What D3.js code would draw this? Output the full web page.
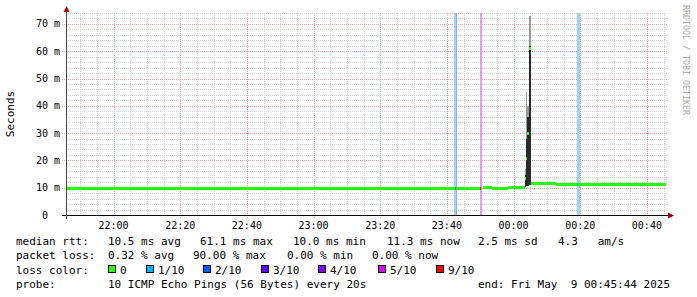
<!DOCTYPE html>
<html>
<head>
<meta charset="utf-8">
<script src="https://cdn.jsdelivr.net/npm/d3@7"></script>
<style>
    body { margin: 0; background: #fff; }
    svg { display: block; }
    text { font-family: "DejaVu Sans Mono", monospace; fill: #000; white-space: pre; }
</style>
</head>
<body>
<div id="chart"></div>
<script>
// graph window
var startTime = "21:45:44";
var endTime = "00:45:44";
var yTicks = [0, 10, 20, 30, 40, 50, 60, 70];

// median rtt (ms), one value per step starting at medTimes[i]; loss in tenths
var medTimes  = ["21:45:44", "23:42:26", "23:42:44", "23:49:56", "23:50:14", "23:50:50", "23:53:32",
                 "23:58:20", "00:00:26", "00:03:26", "00:03:44", "00:04:02", "00:04:38", "00:05:14",
                 "00:12:44", "00:19:02", "00:19:20", "00:25:20", "00:28:56"];
var medValues = [10.0, 10.0, 10.0, 10.0, null, 10.4, 10.0,
                 10.4, 10.2, 13.5, 21.0, 30.0, 61.1, 11.7,
                 11.5, 11.5, 11.5, 11.2, 11.4];
var medLoss   = [0, 2, 0, 9, 0, 0, 0,
                 0, 0, 0, 0, 0, 0, 0,
                 0, 1, 0, 0, 0];

// smoke around the spike (ms)
var smokeTimes    = ["00:03:26", "00:03:44", "00:04:02", "00:04:38", "00:05:14"];
var smokeLow      = [10.3, 10.5, 10.5, 11.0];
var smokeHigh     = [17, 45, 40, 73];
var smokeDarkHigh = [14.5, 28, 36, 62];

// loss background stripes
var lossBgStart = ["23:42:08", "23:42:44", "23:49:56", "00:19:02"];
var lossBgEnd   = ["23:42:44", "23:43:02", "23:50:32", "00:19:56"];
var lossBgLevel = [1, 3, 5, 1];

// legend
var lossLevels = [0, 1, 2, 3, 4, 5, 9];
var lossLabels = ["0", "1/10", "2/10", "3/10", "4/10", "5/10", "9/10"];
var lossColors = ["#26ff00", "#00b8ff", "#0059ff", "#5e00ff", "#7e00ff", "#dd00ff", "#ff0000"];
var rttStats  = ["10.5 ms avg", "61.1 ms max", "10.0 ms min", "11.3 ms now", "2.5 ms sd", "4.3   am/s"];
var lossStats = ["0.32 % avg", "90.00 % max", "0.00 % min", "0.00 % now"];
var probeText = "10 ICMP Echo Pings (56 Bytes) every 20s";
var endText = "end: Fri May  9 00:45:44 2025";

var W = 697, H = 297;

function toDate(s) {
    var p = s.split(":").map(Number);
    var day = p[0] >= 12 ? 8 : 9;
    return new Date(2025, 4, day, p[0], p[1], p[2]);
}
function colorOf(level) {
    return lossColors[lossLevels.indexOf(level)];
}

var svg = d3.select("#chart").append("svg")
    .attr("width", W)
    .attr("height", H);

var x = d3.scaleTime().domain([toDate(startTime), toDate(endTime)]).range([66, 666]);
var y = d3.scaleLinear().domain([0, 74]).range([215, 13]);

var grid = svg.append("g").attr("shape-rendering", "crispEdges");

// minor grid
var minorX = x.ticks(d3.timeMinute.every(5));
var majorX = x.ticks(d3.timeMinute.every(20));
grid.selectAll(".vmin").data(minorX).enter().append("line")
    .attr("x1", function (d) { return Math.round(x(d)) + 0.5; })
    .attr("x2", function (d) { return Math.round(x(d)) + 0.5; })
    .attr("y1", y(74)).attr("y2", 215)
    .attr("stroke", "#d2d2d2").attr("stroke-dasharray", "1,1");
var minorY = d3.range(2, 75, 2);
grid.selectAll(".hmin").data(minorY).enter().append("line")
    .attr("x1", 66).attr("x2", 668)
    .attr("y1", function (d) { return Math.round(y(d)) + 0.5; })
    .attr("y2", function (d) { return Math.round(y(d)) + 0.5; })
    .attr("stroke", "#d2d2d2").attr("stroke-dasharray", "1,1");

// major grid
grid.selectAll(".vmaj").data(majorX).enter().append("line")
    .attr("x1", function (d) { return Math.round(x(d)) + 0.5; })
    .attr("x2", function (d) { return Math.round(x(d)) + 0.5; })
    .attr("y1", y(74)).attr("y2", 219)
    .attr("stroke", "#eba4a4").attr("stroke-dasharray", "1,1");
grid.selectAll(".hmaj").data(yTicks.slice(1)).enter().append("line")
    .attr("x1", 62).attr("x2", 668)
    .attr("y1", function (d) { return Math.round(y(d)) + 0.5; })
    .attr("y2", function (d) { return Math.round(y(d)) + 0.5; })
    .attr("stroke", "#eba4a4").attr("stroke-dasharray", "1,1");

// loss background stripes
var bg = svg.append("g").attr("shape-rendering", "crispEdges");
lossBgStart.forEach(function (s, i) {
    var x0 = Math.round(x(toDate(s))), x1 = Math.round(x(toDate(lossBgEnd[i])));
    bg.append("rect")
        .attr("x", x0).attr("width", Math.max(1, x1 - x0))
        .attr("y", y(74)).attr("height", y(0) - y(74))
        .attr("fill", d3.interpolateRgb(colorOf(lossBgLevel[i]), "#e8e8f0")(0.65));
});

// smoke
var smoke = svg.append("g").attr("shape-rendering", "crispEdges");
for (var i = 0; i < smokeTimes.length - 1; i++) {
    var sx0 = Math.round(x(toDate(smokeTimes[i]))), sx1 = Math.round(x(toDate(smokeTimes[i + 1])));
    smoke.append("rect")
        .attr("x", sx0).attr("width", sx1 - sx0)
        .attr("y", y(smokeHigh[i])).attr("height", y(smokeLow[i]) - y(smokeHigh[i]))
        .attr("fill", "#9a9a9a");
    smoke.append("rect")
        .attr("x", sx0).attr("width", sx1 - sx0)
        .attr("y", y(smokeDarkHigh[i])).attr("height", y(smokeLow[i]) - y(smokeDarkHigh[i]))
        .attr("fill", "#2a2a2a");
}

// median, coloured by loss
var line = d3.line().x(function (d) { return d[0]; }).y(function (d) { return d[1]; });
var med = svg.append("g").attr("shape-rendering", "crispEdges");
medTimes.forEach(function (t, i) {
    if (medValues[i] === null) return;
    var t1 = i + 1 < medTimes.length ? medTimes[i + 1] : endTime;
    var yy = Math.round(y(medValues[i])) + 0.5;
    med.append("path")
        .attr("d", line([[Math.round(x(toDate(t))), yy], [Math.round(x(toDate(t1))), yy]]))
        .attr("fill", "none")
        .attr("stroke", colorOf(medLoss[i]))
        .attr("stroke-width", 3);
});

// axes
var ax = svg.append("g").attr("shape-rendering", "crispEdges");
ax.append("line").attr("x1", 62).attr("x2", 668).attr("y1", 215.5).attr("y2", 215.5)
    .attr("stroke", "#000");
ax.append("line").attr("x1", 66.5).attr("x2", 66.5).attr("y1", 219).attr("y2", 12)
    .attr("stroke", "#444");
svg.append("path").attr("d", "M668,212.5L674,215.5L668,218.5Z").attr("fill", "#a00000");
svg.append("path").attr("d", "M63.5,12L66.5,6L69.5,12Z").attr("fill", "#a00000");

// x tick labels
svg.selectAll(".xl").data(majorX).enter().append("text")
    .attr("x", function (d) { return x(d); })
    .attr("y", 229)
    .attr("text-anchor", "middle")
    .style("font-size", "10px")
    .text(d3.timeFormat("%H:%M"));

// y tick labels
svg.selectAll(".yl").data(yTicks).enter().append("text")
    .attr("x", 60)
    .attr("y", function (d) { return y(d) + 3.5; })
    .attr("text-anchor", "end")
    .style("font-size", "10px")
    .text(function (d) { return d === 0 ? "0  " : d + " m"; });

// axis title
svg.append("text")
    .attr("transform", "translate(14,114) rotate(-90)")
    .attr("text-anchor", "middle")
    .style("font-size", "11px")
    .text("Seconds");

// watermark
svg.append("text")
    .attr("transform", "translate(683,5) rotate(90)")
    .style("font-size", "8.3px")
    .style("fill", "#aaaaaa")
    .text("RRDTOOL / TOBI OETIKER");

// legend
var leg = svg.append("g").style("font-size", "11px");
leg.append("text").attr("x", 16).attr("y", 245).text("median rtt:");
var rttX = [108, 200, 293, 387, 478, 558];
rttStats.forEach(function (s, i) {
    leg.append("text").attr("x", rttX[i]).attr("y", 245).text(s);
});
leg.append("text").attr("x", 16).attr("y", 259).text("packet loss:");
var lossX = [108, 193, 287, 372];
lossStats.forEach(function (s, i) {
    leg.append("text").attr("x", lossX[i]).attr("y", 259).text(s);
});
leg.append("text").attr("x", 16).attr("y", 273.5).text("loss color:");
var swX = [108, 146, 203, 261, 318, 378, 436];
lossLabels.forEach(function (s, i) {
    leg.append("rect")
        .attr("x", swX[i] + 0.5).attr("y", 265.5)
        .attr("width", 7).attr("height", 7)
        .attr("fill", lossColors[i])
        .attr("stroke", "#000")
        .attr("shape-rendering", "crispEdges");
    leg.append("text").attr("x", swX[i] + 12).attr("y", 273.5).text(s);
});
leg.append("text").attr("x", 16).attr("y", 288).text("probe:");
leg.append("text").attr("x", 108).attr("y", 288).text(probeText);
leg.append("text").attr("x", 478).attr("y", 288).text(endText);
</script>
</body>
</html>
